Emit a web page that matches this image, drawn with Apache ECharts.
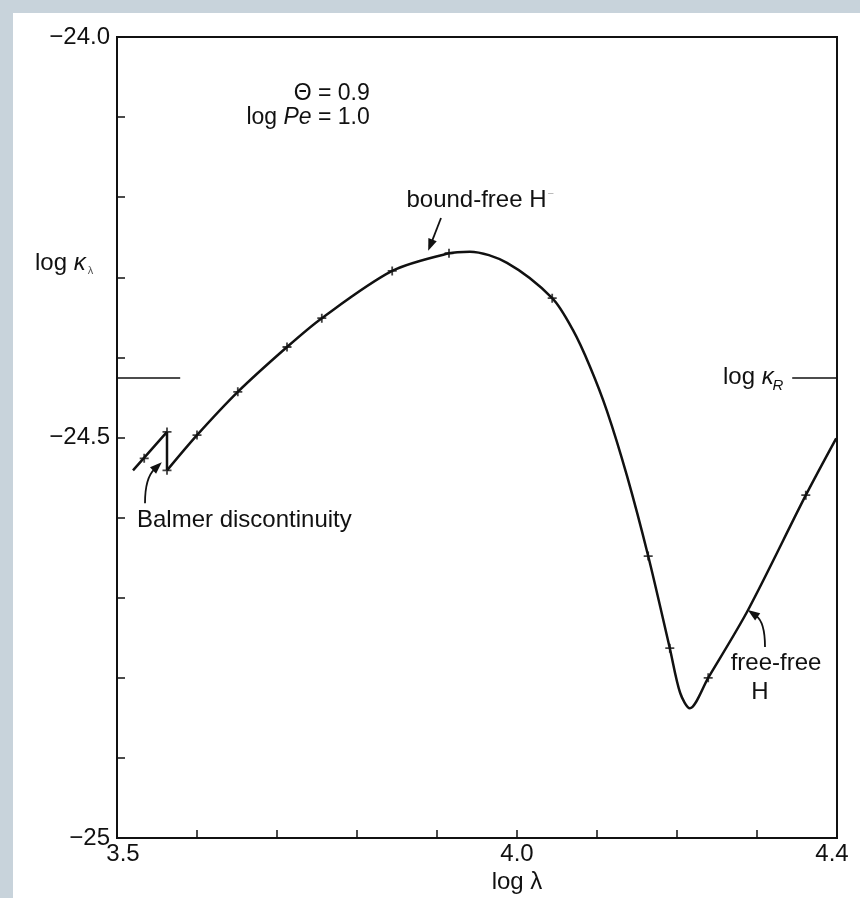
<!DOCTYPE html>
<html><head><meta charset="utf-8">
<script src="https://cdn.jsdelivr.net/npm/echarts@6/dist/echarts.min.js"></script>
<style>
html,body{margin:0;padding:0;background:#c8d3db;width:860px;height:898px;overflow:hidden}
#chart{position:absolute;left:13px;top:13px;width:847px;height:885px;background:#fff}
</style>
</head><body><div id="chart"></div>
<script>
// ---- data ----
const xTickValues = [3.5, 4.0, 4.4];
const xTickLabels = ['3.5', '4.0', '4.4'];
const yTickValues = [-24.0, -24.5, -25.0];
const yTickLabels = ['\u221224.0', '\u221224.5', '\u221225'];

// straight segment with the Balmer jump
const balmerSegment = [[3.520, -24.541], [3.5625, -24.493], [3.5625, -24.541]];
// smooth opacity curve (log lambda, log kappa)
const opacityCurve = [
  [3.5625, -24.541], [3.600, -24.497], [3.651, -24.443], [3.7125, -24.387],
  [3.756, -24.351], [3.844, -24.292], [3.915, -24.270], [3.941, -24.268],
  [3.9875, -24.282], [4.044, -24.326], [4.070, -24.366], [4.091, -24.411],
  [4.1125, -24.467], [4.1375, -24.548], [4.164, -24.648], [4.191, -24.763],
  [4.204, -24.819], [4.216, -24.838], [4.239, -24.800], [4.289, -24.715],
  [4.361, -24.572], [4.399, -24.501]
];
// computed points (cross markers)
const crossMarkers = [
  [3.534, -24.526], [3.5625, -24.493], [3.5625, -24.541], [3.600, -24.497],
  [3.651, -24.443], [3.7125, -24.387], [3.756, -24.351], [3.844, -24.292],
  [3.915, -24.270], [4.044, -24.326], [4.164, -24.648], [4.191, -24.763],
  [4.239, -24.800], [4.361, -24.572]
];
const rosselandLevel = -24.425;
const rosselandLeftEnd = 3.579;
const rosselandRightStart = 4.344;

// annotation arrows: [tailX, tailY, ctrlX, ctrlY, tipX, tipY] in data units
const arrowBoundFree = [3.905, -24.226, 3.897, -24.2465, 3.889, -24.267];
const arrowBalmer = [3.535, -24.582, 3.535, -24.5506, 3.556, -24.531];
const arrowFreeFree = [4.310, -24.7615, 4.310, -24.7303, 4.2885, -24.7154];

// ---- chart ----
const F = '"Liberation Sans", Arial, Helvetica, sans-serif';
const INK = '#111';
const chart = echarts.init(document.getElementById('chart'));

function near(a, b) { return Math.abs(a - b) < 1e-6; }

const option = {
  animation: false,
  grid: { left: 104, top: 24, width: 720, height: 801, show: true, borderColor: INK, borderWidth: 2, backgroundColor: 'transparent' },
  xAxis: {
    type: 'value', min: 3.5, max: 4.4, interval: 0.1,
    axisLine: { lineStyle: { color: INK, width: 2 } },
    axisTick: { inside: true, length: 8, lineStyle: { color: INK, width: 1.5 } },
    splitLine: { show: false },
    axisLabel: {
      margin: 4, color: INK, fontFamily: F, fontSize: 24,
      formatter: function (v) {
        for (let i = 0; i < xTickValues.length; i++) {
          if (near(v, xTickValues[i])) {
            if (i === 0) return '{l|' + xTickLabels[i] + '}';
            if (i === xTickValues.length - 1) return '{r|' + xTickLabels[i] + '}';
            return xTickLabels[i];
          }
        }
        return '';
      },
      rich: {
        l: { fontFamily: F, fontSize: 24, color: INK, padding: [0, 0, 0, 12] },
        r: { fontFamily: F, fontSize: 24, color: INK, padding: [0, 10, 0, 0] }
      }
    }
  },
  yAxis: {
    type: 'value', min: -25, max: -24, interval: 0.1,
    axisLine: { lineStyle: { color: INK, width: 2 } },
    axisTick: { inside: true, length: 8, lineStyle: { color: INK, width: 1.5 } },
    splitLine: { show: false },
    axisLabel: {
      margin: 7, color: INK, fontFamily: F, fontSize: 24,
      formatter: function (v) {
        for (let i = 0; i < yTickValues.length; i++) if (near(v, yTickValues[i])) return yTickLabels[i];
        return '';
      }
    }
  },
  series: [
    {
      type: 'line', data: balmerSegment, smooth: false, showSymbol: false,
      lineStyle: { color: INK, width: 2.5 }, z: 3
    },
    {
      type: 'line', data: opacityCurve, smooth: 0.3, showSymbol: false,
      lineStyle: { color: INK, width: 2.5 }, z: 3
    },
    {
      type: 'scatter', data: crossMarkers,
      symbol: 'path://M4,0H6V4H10V6H6V10H4V6H0V4H4Z', symbolSize: 9,
      itemStyle: { color: INK }, z: 4
    },
    {
      type: 'line', data: [], silent: true,
      markLine: {
        silent: true, symbol: ['none', 'none'], label: { show: false },
        lineStyle: { color: INK, width: 1.5, type: 'solid' },
        data: [
          [{ coord: [3.5, rosselandLevel] }, { coord: [rosselandLeftEnd, rosselandLevel] }],
          [{ coord: [rosselandRightStart, rosselandLevel] }, { coord: [4.4, rosselandLevel] }]
        ]
      }
    }
  ]
};
chart.setOption(option);

function px(x, y) { return chart.convertToPixel({ gridIndex: 0 }, [x, y]); }
function txt(x, y, text, align, size, extra) {
  const p = px(x, y);
  const st = Object.assign({ text: text, fill: INK, font: size + 'px ' + F, textAlign: align, textVerticalAlign: 'middle' }, extra || {});
  return { type: 'text', x: p[0], y: p[1], style: st, z: 10 };
}
function arrow(a) {
  const t = px(a[0], a[1]), c = px(a[2], a[3]), h = px(a[4], a[5]);
  let dx = h[0] - c[0], dy = h[1] - c[1];
  const len = Math.sqrt(dx * dx + dy * dy) || 1;
  dx /= len; dy /= len;
  const L = 12, W = 4.5;
  const bx = h[0] - dx * L, by = h[1] - dy * L;
  return [
    { type: 'bezierCurve', shape: { x1: t[0], y1: t[1], cpx1: c[0], cpy1: c[1], x2: bx + dx * 2, y2: by + dy * 2 },
      style: { stroke: INK, lineWidth: 1.8, fill: null }, z: 10 },
    { type: 'polygon', shape: { points: [[h[0], h[1]], [bx - dy * W, by + dx * W], [bx + dy * W, by - dx * W]] },
      style: { fill: INK }, z: 10 }
  ];
}
const richBase = { fill: INK, fontFamily: F, fontSize: 24 };
const graphics = [
  txt(3.816, -24.0712, '\u0398 = 0.9', 'right', 23),
  txt(3.816, -24.101, '{a|log }{i|Pe}{a| = 1.0}', 'right', 23, {
    rich: { a: Object.assign({}, richBase, { fontSize: 23 }), i: Object.assign({}, richBase, { fontSize: 23, fontStyle: 'italic' }) }
  }),
  txt(3.3975, -24.282, '{a|log }{i|\u03ba}', 'left', 24, {
    rich: { a: richBase, i: Object.assign({}, richBase, { fontStyle: 'italic' }) }
  }),
  txt(3.4635, -24.292, '\u03bb', 'left', 11, { fill: '#555' }),
  txt(3.954, -24.2035, '{a|bound-free H}{s|\u2212}', 'center', 24, {
    rich: { a: richBase, s: { fill: '#aaa', fontFamily: F, fontSize: 11, padding: [0, 0, 12, 1] } }
  }),
  txt(4.2575, -24.4245, '{a|log }{i|\u03ba}', 'left', 24, {
    rich: { a: richBase, i: Object.assign({}, richBase, { fontStyle: 'italic' }) }
  }),
  txt(4.3195, -24.436, 'R', 'left', 15, { font: 'italic 15px ' + F }),
  txt(3.525, -24.603, 'Balmer discontinuity', 'left', 24),
  txt(4.32375, -24.7815, 'free-free', 'center', 24),
  txt(4.30375, -24.8177, 'H', 'center', 24),
  txt(4.0, -25.055, 'log \u03bb', 'center', 24)
].concat(arrow(arrowBoundFree), arrow(arrowBalmer), arrow(arrowFreeFree));
chart.setOption({ graphic: graphics });
</script>
</body></html>
